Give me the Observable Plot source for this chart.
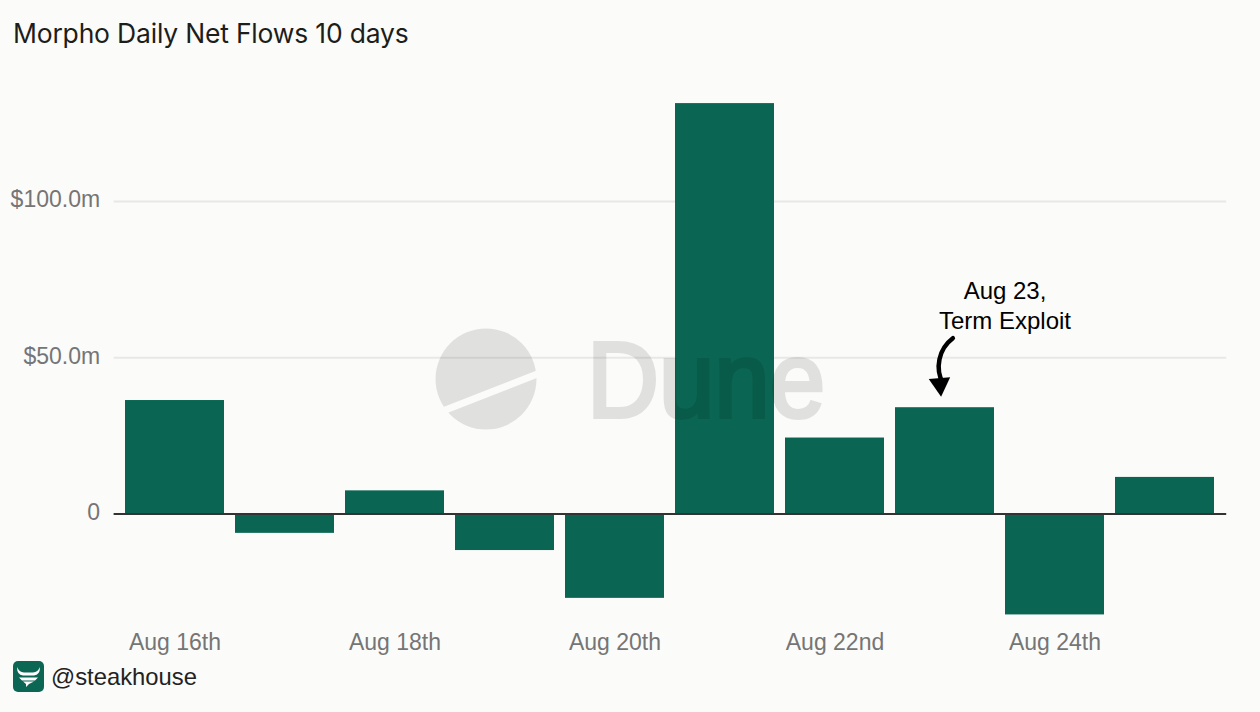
<!DOCTYPE html>
<html><head><meta charset="utf-8">
<script src="https://cdn.jsdelivr.net/npm/d3@7"></script>
<script src="https://cdn.jsdelivr.net/npm/@observablehq/plot@0.6"></script>
<style>
html,body{margin:0;padding:0;background:#fbfbf9;width:1260px;height:712px;overflow:hidden;position:relative}
body{font-family:"Liberation Sans",sans-serif}
#title{height:60px;box-sizing:border-box;padding:18px 0 0 13px;font:26.5px/30px Inter,"Liberation Sans",sans-serif;color:#1d1d1b;letter-spacing:-.2px}
#chart svg{display:block;background:transparent}
#caption{height:54px;position:relative;font:23.8px/30px "Liberation Sans",sans-serif;color:#222}
#caption svg{position:absolute;left:13px;top:3px}
#caption span{position:absolute;left:51px;top:4px}
#wm{position:absolute;left:0;top:0;pointer-events:none}
</style></head><body>
<div id="title">Morpho Daily Net Flows 10 days</div>
<div id="chart"></div>
<div id="caption">
<svg width="31" height="31" viewBox="0 0 31 31"><rect width="31" height="31" rx="5" fill="#0b6653"/>
<path d="M4 6 Q6 11 11 11.5 H20 Q25 11 27 6 Q27 14 21 14.5 H10 Q4 14 4 6Z M6 16.5 H25 L22 19.5 H9Z M10 20.5 H21 L16 23 L13 26 L13 23Z" fill="#fff"/></svg>
<span>@steakhouse</span></div>
<svg id="wm" width="1260" height="712">
<defs><mask id="slash"><rect width="1260" height="712" fill="#fff"/><line x1="430" y1="416" x2="550" y2="369" stroke="#000" stroke-width="7"/></mask></defs>
<g fill="#000" opacity="0.1">
<circle cx="486" cy="379" r="50.5" mask="url(#slash)"/>
<text x="587" y="417" font-family="Liberation Sans" font-size="107" stroke="#000" stroke-width="4" textLength="238" lengthAdjust="spacingAndGlyphs">Dune</text>
</g></svg>
<script>
const days = ["Aug 16th","Aug 17th","Aug 18th","Aug 19th","Aug 20th","Aug 21st","Aug 22nd","Aug 23rd","Aug 24th","Aug 25th"];
const flows = [36.3,-6.2,7.4,-11.7,-27,131.3,24.3,34,-32.3,11.7];
const labelledDays = ["Aug 16th","Aug 18th","Aug 20th","Aug 22nd","Aug 24th"];
const gridValues = [50,100];
const yTicks = [0,50,100];
const noteDay = "Aug 23rd";
const noteText = "Aug 23,\nTerm Exploit";
const noteLevel = 67;
const shaftStart = 56.4, shaftEnd = 41.5, headLevel = 41.5;

const rows = days.map((d,i)=>({day:d,flow:flows[i]}));
const fmt = v => v===0 ? "0" : "$"+v.toFixed(1)+"m";
const axisFont = "Liberation Sans";
const plot = Plot.plot({
  width:1260,height:598,
  marginLeft:113.6,marginRight:33.8,marginTop:15.9,marginBottom:32,
  style:{background:"transparent",overflow:"visible"},
  x:{type:"band",domain:days,paddingInner:0.1,paddingOuter:0.1,label:null},
  y:{domain:[-36,140],label:null},
  marks:[
    Plot.ruleY(gridValues,{stroke:"#e8e8e6",strokeWidth:2}),
    Plot.barY(rows,{x:"day",y:"flow",fill:"#0a6652"}),
    Plot.ruleY([0],{stroke:"#333",strokeWidth:2}),
    Plot.axisX({ticks:labelledDays,tickSize:0,tickPadding:7,fontSize:23,fontFamily:axisFont,color:"#757575",label:null,anchor:"bottom"}),
    Plot.axisY({ticks:yTicks,tickSize:0,tickPadding:14,fontSize:23,fontFamily:axisFont,color:"#757575",tickFormat:fmt,label:null,anchor:"left",dy:-1.5}),
    Plot.text([noteDay],{x:d=>d,y:()=>noteLevel,text:()=>noteText,dx:60,fontSize:24,fill:"#000",lineHeight:1.22,fontFamily:"Liberation Sans"}),
    Plot.arrow([noteDay],{x:d=>d,y1:()=>shaftStart,y2:()=>shaftEnd,bend:-41,headLength:0,stroke:"#000",strokeWidth:4.5,dx:3,
      render(i,s,v,d,c,next){
        const g=next(i,s,v,d,c);
        const cx=s.x(noteDay), cy=s.y((shaftStart+shaftEnd)/2);
        g.setAttribute("transform",(g.getAttribute("transform")||"")+` rotate(12 ${cx} ${cy})`);
        return g;
      }}),
    Plot.dot([noteDay],{x:d=>d,y:()=>headLevel,symbol:"triangle",r:8,fill:"#000",rotate:175,dx:-5})
  ]
});
document.getElementById("chart").appendChild(plot);
</script>
</body></html>
